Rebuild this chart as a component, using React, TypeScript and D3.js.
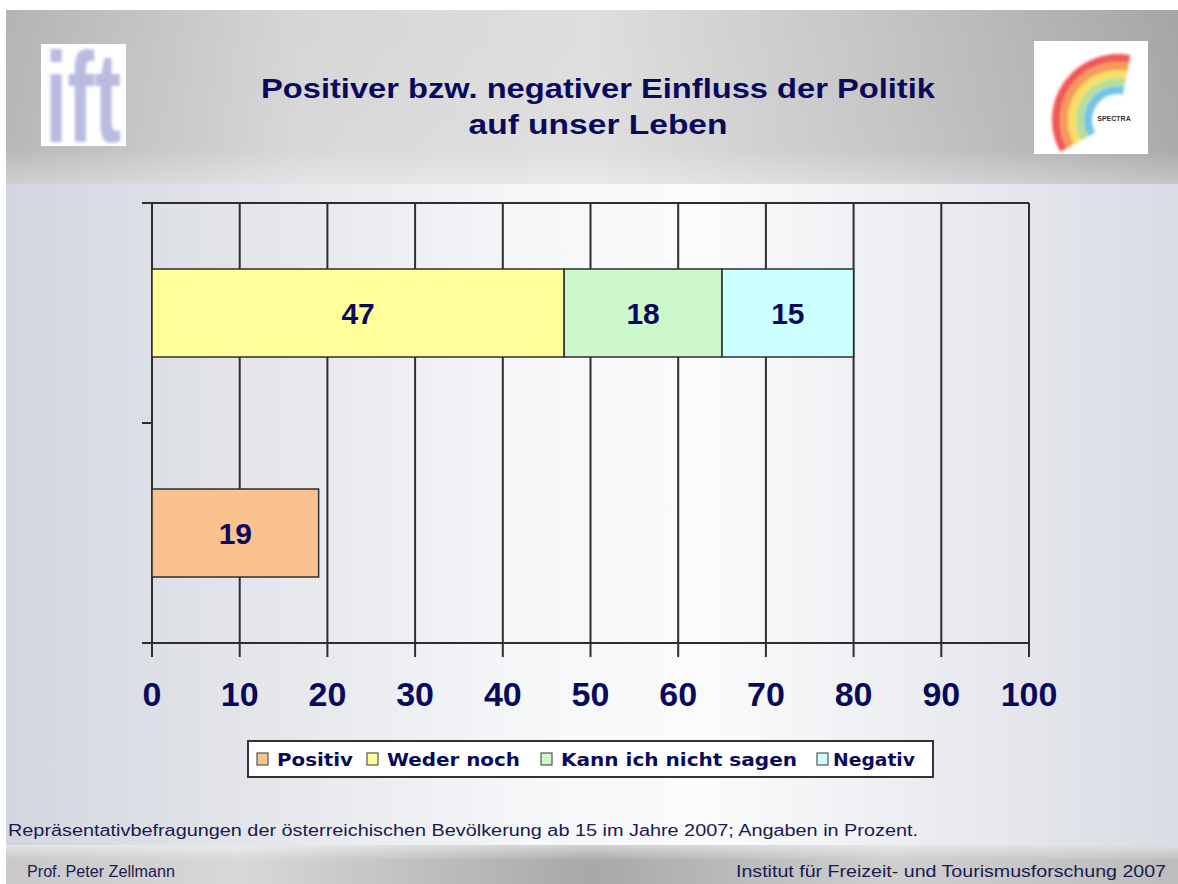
import React from "react";
import * as d3 from "d3";

// ---- Data ----
const categories = ["Gruppe A", "Gruppe B"]; // top bar, bottom bar
const seriesNames = ["Positiv", "Weder noch", "Kann ich nicht sagen", "Negativ"];
const positiv = [0, 19];
const wederNoch = [47, 0];
const kannNicht = [18, 0];
const negativ = [15, 0];
const xTicks = [0, 10, 20, 30, 40, 50, 60, 70, 80, 90, 100];
const seriesColors = ["#F9C28F", "#FFFF99", "#CCF8CC", "#CCFFFF"];

const titleLines = ["Positiver bzw. negativer Einfluss der Politik", "auf unser Leben"];
const footnote = "Repräsentativbefragungen der österreichischen Bevölkerung ab 15 im Jahre 2007; Angaben in Prozent.";
const footerLeft = "Prof. Peter Zellmann";
const footerRight = "Institut für Freizeit- und Tourismusforschung 2007";

const W = 1178;
const H = 884;
const NAVY = "#0a0a5c";
const GRID = "#2e2e2e";

export default function App() {
  const x = d3.scaleLinear().domain([0, 100]).range([152, 1029]);
  const y = d3.scaleBand<string>().domain(categories).range([203, 643]).paddingInner(0.6).paddingOuter(0.3);

  const rows = categories.map((c, i) => ({
    cat: c,
    "Positiv": positiv[i],
    "Weder noch": wederNoch[i],
    "Kann ich nicht sagen": kannNicht[i],
    "Negativ": negativ[i],
  }));
  const stack = d3.stack<any>().keys(seriesNames);
  const layers = stack(rows);

  const [y0, y1] = y.range();
  const catTicks = [y0, ...categories.slice(1).map((c) => (y(c) as number) - (y.step() * y.paddingInner()) / 2), y1];

  // logo rainbow arcs
  const arcColors = ["#ee3b3b", "#f58a3a", "#f9d84a", "#a9d98a", "#5bb8ea"];
  const arcGen = d3.arc();

  const legendItems = [
    { name: seriesNames[0], color: seriesColors[0], sx: 257, tx: 277, tw: 76 },
    { name: seriesNames[1], color: seriesColors[1], sx: 367, tx: 387, tw: 133 },
    { name: seriesNames[2], color: seriesColors[2], sx: 541, tx: 561, tw: 236 },
    { name: seriesNames[3], color: seriesColors[3], sx: 817, tx: 833, tw: 82 },
  ];

  return (
    <svg width={W} height={H} style={{ position: "absolute", left: 0, top: 0 }} fontFamily="Arial, 'Liberation Sans', sans-serif">
      <defs>
        <linearGradient id="bodyG" x1="0" x2="1" y1="0" y2="0">
          <stop offset="0" stopColor="#d3d6de" />
          <stop offset="0.45" stopColor="#f6f7f9" />
          <stop offset="0.6" stopColor="#fbfbfc" />
          <stop offset="1" stopColor="#d9dce4" />
        </linearGradient>
        <linearGradient id="headG" x1="0" x2="1" y1="0" y2="0">
          <stop offset="0" stopColor="#b4b4b4" />
          <stop offset="0.25" stopColor="#d6d6d6" />
          <stop offset="0.5" stopColor="#dedede" />
          <stop offset="0.75" stopColor="#c4c4c4" />
          <stop offset="1" stopColor="#a6a6a6" />
        </linearGradient>
        <linearGradient id="headFade" x1="0" x2="0" y1="0" y2="1">
          <stop offset="0" stopColor="#ffffff" stopOpacity="0" />
          <stop offset="0.8" stopColor="#ffffff" stopOpacity="0.05" />
          <stop offset="1" stopColor="#ffffff" stopOpacity="0.35" />
        </linearGradient>
        <linearGradient id="footG" x1="0" x2="1" y1="0" y2="0">
          <stop offset="0" stopColor="#c8c8c8" />
          <stop offset="0.2" stopColor="#d8d8d8" />
          <stop offset="0.5" stopColor="#a8a8a8" />
          <stop offset="0.75" stopColor="#cfcfcf" />
          <stop offset="1" stopColor="#bdbdbd" />
        </linearGradient>
        <linearGradient id="footFade" x1="0" x2="0" y1="0" y2="1">
          <stop offset="0" stopColor="#ffffff" stopOpacity="0.5" />
          <stop offset="0.4" stopColor="#ffffff" stopOpacity="0" />
        </linearGradient>
        <filter id="soft" x="-10%" y="-10%" width="120%" height="120%">
          <feGaussianBlur stdDeviation="1.6" />
        </filter>
        <clipPath id="logoClip">
          <rect x={1034} y={41} width={114} height={113} />
        </clipPath>
      </defs>

      <rect x={0} y={0} width={W} height={H} fill="#ffffff" />
      {/* slide body */}
      <rect x={6} y={10} width={W - 6} height={H - 10} fill="url(#bodyG)" />
      {/* header band */}
      <rect x={6} y={10} width={W - 6} height={174} fill="url(#headG)" />
      <rect x={6} y={10} width={W - 6} height={174} fill="url(#headFade)" />
      {/* footer band */}
      <rect x={6} y={845} width={W - 6} height={H - 845} fill="url(#footG)" />
      <rect x={6} y={845} width={W - 6} height={H - 845} fill="url(#footFade)" />

      {/* ift logo */}
      <rect x={41} y={44} width={85} height={102} fill="#ffffff" />
      <text x={45} y={142} fontSize={128} fontWeight="bold" fontFamily="'Liberation Sans Narrow', Arial, sans-serif" fill="#babbe0" textLength={76} lengthAdjust="spacingAndGlyphs" filter="url(#soft)">ift</text>

      {/* spectra logo */}
      <rect x={1034} y={41} width={114} height={113} fill="#ffffff" />
      <g clipPath="url(#logoClip)">
        <g transform="translate(1118,120)" filter="url(#soft)">
          {arcColors.map((c, i) => (
            <path
              key={c}
              d={arcGen({ innerRadius: 66 - (i + 1) * 8, outerRadius: 66 - i * 8, startAngle: -Math.PI * 0.66, endAngle: Math.PI * 0.06 }) as string}
              fill={c}
              opacity={0.85}
            />
          ))}
        </g>
        <text x={1114} y={121} fontSize={7} fontWeight="bold" fill="#333" textAnchor="middle">SPECTRA</text>
      </g>

      {/* title */}
      {titleLines.map((t, i) => (
        <text key={t} x={598} y={98 + i * 36} textAnchor="middle" fontSize={28} fontWeight="bold" fill={NAVY}
          textLength={i === 0 ? 674 : 259} lengthAdjust="spacingAndGlyphs">{t}</text>
      ))}

      {/* grid lines */}
      {xTicks.map((t) => (
        <line key={"g" + t} x1={x(t)} x2={x(t)} y1={y0} y2={y1 + 14} stroke={GRID} strokeWidth={2} />
      ))}
      <line x1={142} x2={x(100)} y1={y0} y2={y0} stroke={GRID} strokeWidth={2} />
      <line x1={142} x2={x(100)} y1={y1} y2={y1} stroke={GRID} strokeWidth={2} />
      {catTicks.map((v, i) => (
        <line key={"ct" + i} x1={142} x2={x(0)} y1={v} y2={v} stroke={GRID} strokeWidth={2} />
      ))}

      {/* bars */}
      {layers.map((layer, li) => (
        <g key={layer.key}>
          {layer.map((d: any, di: number) => {
            const v = d[1] - d[0];
            if (v <= 0) return null;
            const cat = categories[di];
            const bx = x(d[0]);
            const bw = x(d[1]) - x(d[0]);
            const by = y(cat) as number;
            return (
              <g key={cat}>
                <rect x={bx} y={by} width={bw} height={y.bandwidth()} fill={seriesColors[li]} stroke={GRID} strokeWidth={1.5} />
                <text x={bx + bw / 2} y={by + y.bandwidth() / 2 + 11} textAnchor="middle" fontSize={30} fontWeight="bold" fill={NAVY}>
                  {v}
                </text>
              </g>
            );
          })}
        </g>
      ))}

      {/* x tick labels */}
      {xTicks.map((t) => (
        <text key={"l" + t} x={x(t)} y={706} textAnchor="middle" fontSize={34} fontWeight="bold" fill={NAVY}>{t}</text>
      ))}

      {/* legend */}
      <rect x={248} y={741} width={685} height={36} fill="#ffffff" stroke="#333" strokeWidth={2} />
      {legendItems.map((it) => (
        <g key={it.name}>
          <rect x={it.sx} y={753} width={11} height={12} fill={it.color} stroke="#555" strokeWidth={1.2} />
          <text x={it.tx} y={766} fontSize={18} fontWeight="bold" fontFamily="'DejaVu Sans', Verdana, sans-serif" fill={NAVY} textLength={it.tw} lengthAdjust="spacingAndGlyphs">{it.name}</text>
        </g>
      ))}

      {/* footnote */}
      <text x={8} y={836} fontSize={16} fill="#1a1a50" textLength={910} lengthAdjust="spacingAndGlyphs">{footnote}</text>
      <text x={27} y={877} fontSize={16} fill="#1a1a50" textLength={148} lengthAdjust="spacingAndGlyphs">{footerLeft}</text>
      <text x={1166} y={877} fontSize={16} fill="#1a1a50" textAnchor="end" textLength={430} lengthAdjust="spacingAndGlyphs">{footerRight}</text>
    </svg>
  );
}
